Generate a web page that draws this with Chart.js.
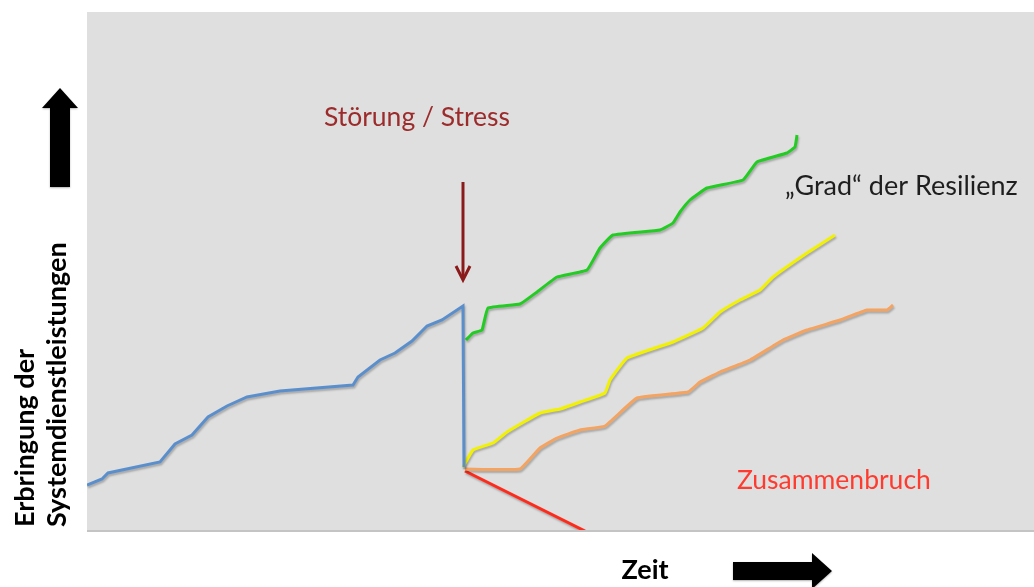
<!DOCTYPE html>
<html>
<head>
<meta charset="utf-8">
<script src="https://cdn.jsdelivr.net/npm/chart.js@4.4.1/dist/chart.umd.min.js"></script>
<style>
  body { margin: 0; background: #fff; }
  #wrap { width: 1034px; height: 587px; }
</style>
</head>
<body>
<div id="wrap"><canvas id="resChart" width="1034" height="587"></canvas></div>
<script>
// Zeit (x) / Erbringung der Systemdienstleistungen (y), schematic units
const vorherX = [0, 15, 21, 73, 88, 105, 121, 140, 160, 193, 266, 271, 293, 308, 325, 340, 355, 376, 377];
const vorherY = [45, 51, 57, 68, 86, 95, 113, 124, 133, 139, 145, 153, 170, 177, 189, 204, 210, 224, 63];

const gruenX = [379, 386, 395, 401, 433, 450, 470, 500, 513, 526, 573, 586, 593, 603, 620, 656, 670, 700, 708, 710];
const gruenY = [190, 197, 200, 222, 226, 238, 253, 260, 282, 295, 300, 307, 318, 330, 342, 350, 368, 377, 383, 395];

const gelbX = [376, 386, 406, 420, 453, 473, 493, 518, 523, 540, 586, 616, 633, 653, 673, 686, 720, 748];
const gelbY = [63, 80, 87, 98, 117, 121, 128, 137, 150, 172, 188, 202, 218, 230, 240, 253, 277, 295];

const orangeX = [378, 433, 453, 470, 493, 518, 550, 601, 613, 633, 663, 696, 720, 753, 780, 800, 806];
const orangeY = [61, 61, 82, 92, 100, 104, 132, 138, 148, 158, 170, 190, 200, 210, 220, 220, 225];

const rotX = [378, 498];
const rotY = [59, -1];

function pts(xs, ys) {
    return xs.map((x, i) => ({ x: x, y: ys[i] }));
}

const FONT = 'Lato, "Open Sans", sans-serif';

// gray plot background + bottom shadow
const bgPlugin = {
    id: 'bg',
    beforeDraw(chart) {
        const a = chart.chartArea;
        const ctx = chart.ctx;
        ctx.save();
        ctx.fillStyle = '#dfdfdf';
        ctx.fillRect(a.left, a.top, a.right - a.left, a.bottom - a.top);
        ctx.fillStyle = '#c4c4c4';
        ctx.fillRect(a.left, a.bottom, a.right - a.left, 2);
        ctx.restore();
    },
    beforeDatasetsDraw(chart) {
        const ctx = chart.ctx;
        ctx.save();
        ctx.shadowColor = 'rgba(0,0,0,0.25)';
        ctx.shadowOffsetX = 1;
        ctx.shadowOffsetY = 2;
        ctx.shadowBlur = 2;
    },
    afterDatasetsDraw(chart) {
        chart.ctx.restore();
    }
};

function blockArrow(ctx, x1, y1, x2, y2, shaft, head, headLen) {
    const ang = Math.atan2(y2 - y1, x2 - x1);
    const len = Math.hypot(x2 - x1, y2 - y1);
    ctx.save();
    ctx.translate(x1, y1);
    ctx.rotate(ang);
    ctx.beginPath();
    ctx.moveTo(0, -shaft / 2);
    ctx.lineTo(len - headLen, -shaft / 2);
    ctx.lineTo(len - headLen, -head / 2);
    ctx.lineTo(len, 0);
    ctx.lineTo(len - headLen, head / 2);
    ctx.lineTo(len - headLen, shaft / 2);
    ctx.lineTo(0, shaft / 2);
    ctx.closePath();
    ctx.fill();
    ctx.restore();
}

const textPlugin = {
    id: 'texte',
    afterDraw(chart) {
        const ctx = chart.ctx;
        const xs = chart.scales.x, ys = chart.scales.y;
        ctx.save();
        ctx.textBaseline = 'middle';

        // Störung / Stress
        ctx.font = '26.5px ' + FONT;
        ctx.fillStyle = '#9c2b2b';
        ctx.textAlign = 'center';
        ctx.fillText('Störung / Stress', xs.getPixelForValue(330), ys.getPixelForValue(413));

        // stress arrow
        const ax = xs.getPixelForValue(376);
        const ay1 = ys.getPixelForValue(348), ay2 = ys.getPixelForValue(250);
        ctx.strokeStyle = '#8b1a1a';
        ctx.lineWidth = 3;
        ctx.beginPath();
        ctx.moveTo(ax, ay1);
        ctx.lineTo(ax, ay2 - 2);
        ctx.stroke();
        ctx.beginPath();
        ctx.moveTo(ax - 7, ay2 - 14);
        ctx.lineTo(ax, ay2);
        ctx.lineTo(ax + 7, ay2 - 14);
        ctx.stroke();

        // Grad der Resilienz
        ctx.textAlign = 'left';
        ctx.fillStyle = '#1e1e1e';
        ctx.font = '27px ' + FONT;
        ctx.fillText('\u201EGrad\u201C der Resilienz', xs.getPixelForValue(698), ys.getPixelForValue(344));

        // Zusammenbruch
        ctx.font = '26.5px ' + FONT;
        ctx.fillStyle = '#ff3b2f';
        ctx.fillText('Zusammenbruch', xs.getPixelForValue(650), ys.getPixelForValue(50));

        // y title
        ctx.fillStyle = '#000';
        ctx.font = 'bold 27px ' + FONT;
        ctx.save();
        ctx.translate(0, 527);
        ctx.rotate(-Math.PI / 2);
        ctx.textAlign = 'left';
        ctx.fillText('Erbringung der', 0, 25);
        ctx.fillText('Systemdienstleistungen', 0, 57);
        ctx.restore();

        // x title
        ctx.textAlign = 'center';
        ctx.fillText('Zeit', 645, 570);

        // black block arrows
        ctx.shadowColor = 'rgba(0,0,0,0.3)';
        ctx.shadowBlur = 2;
        ctx.shadowOffsetY = 1;
        blockArrow(ctx, 60, 187, 60, 88, 20, 36, 20);
        blockArrow(ctx, 733, 571, 832, 571, 18, 36, 20);
        ctx.restore();
    }
};

const lineStyle = { borderWidth: 3, pointRadius: 0, fill: false, tension: 0.1 };

new Chart(document.getElementById('resChart'), {
    type: 'line',
    data: {
        datasets: [
            Object.assign({ label: 'vorher', data: pts(vorherX, vorherY), borderColor: '#5b8fcc' }, lineStyle, { tension: 0 }),
            Object.assign({ label: 'hoch', data: pts(gruenX, gruenY), borderColor: '#22cc22' }, lineStyle),
            Object.assign({ label: 'mittel', data: pts(gelbX, gelbY), borderColor: '#f2f200' }, lineStyle),
            Object.assign({ label: 'gering', data: pts(orangeX, orangeY), borderColor: '#f4a460' }, lineStyle),
            Object.assign({ label: 'Zusammenbruch', data: pts(rotX, rotY), borderColor: '#ff2a1a' }, lineStyle, { tension: 0 })
        ]
    },
    options: {
        responsive: false,
        animation: false,
        layout: { padding: { left: 87, top: 12, right: 0, bottom: 57 } },
        plugins: { legend: { display: false }, tooltip: { enabled: false } },
        scales: {
            x: { type: 'linear', min: 0, max: 947, display: false },
            y: { type: 'linear', min: 0, max: 518, display: false }
        }
    },
    plugins: [bgPlugin, textPlugin]
});
</script>
</body>
</html>
